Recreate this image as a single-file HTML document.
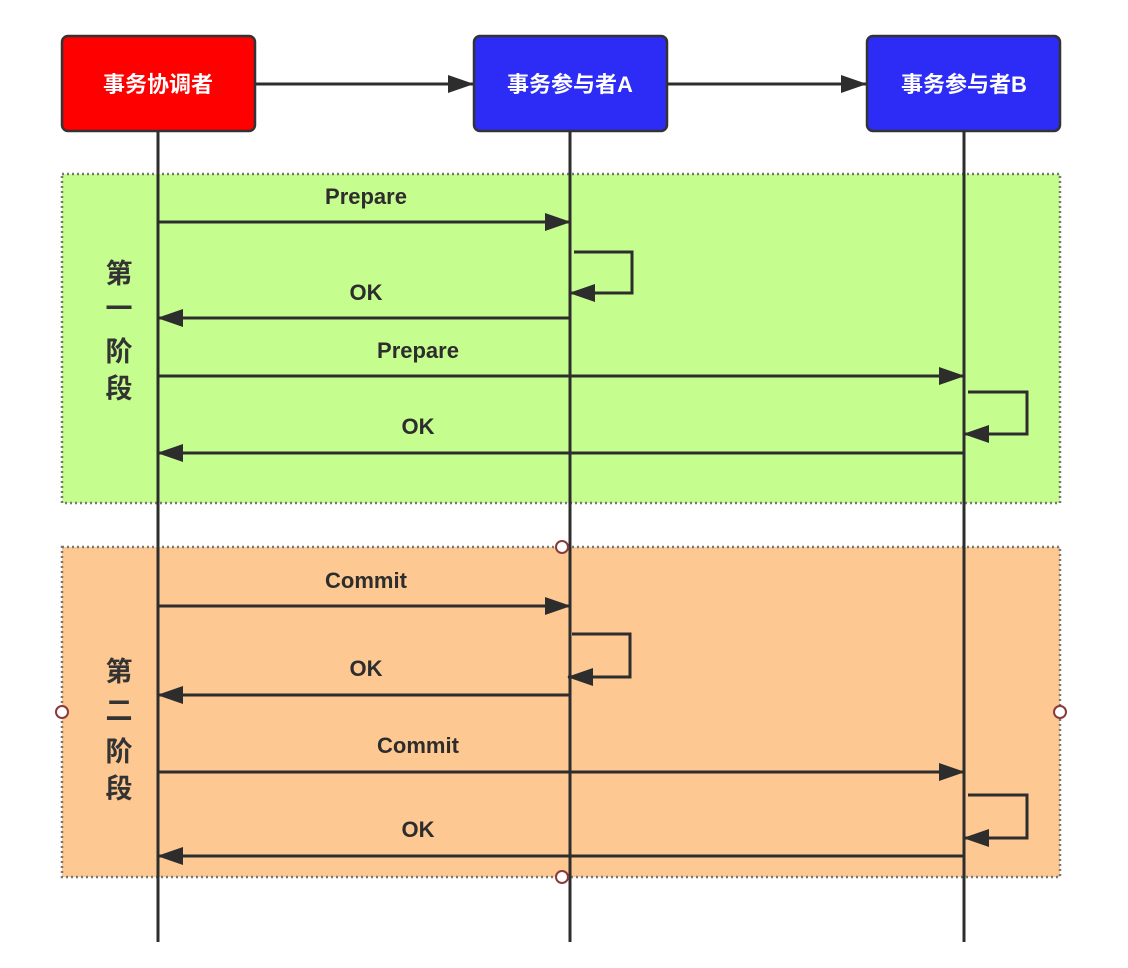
<!DOCTYPE html>
<html><head><meta charset="utf-8"><style>
html,body{margin:0;padding:0;background:#fff;}
svg{display:block;}
text{font-family:"Liberation Sans","Noto Sans CJK SC",sans-serif;font-weight:bold;}
</style></head><body>
<svg width="1128" height="968" viewBox="0 0 1128 968" xmlns="http://www.w3.org/2000/svg">
<defs>
<marker id="a" markerWidth="26" markerHeight="18" refX="25" refY="9" orient="auto" markerUnits="userSpaceOnUse">
<path d="M0,0 L26,9 L0,18 Z" fill="#2d2d2d"/>
</marker>
</defs>
<rect x="62" y="174" width="998" height="329" fill="#c6fd8f" stroke="#777" stroke-width="2.5" stroke-dasharray="2,3"/>
<rect x="62" y="547" width="998" height="330" fill="#fdc891" stroke="#777" stroke-width="2.5" stroke-dasharray="2,3"/>
<g stroke="#2d2d2d" stroke-width="3" fill="none">
<line x1="158" y1="131" x2="158" y2="942"/>
<line x1="570" y1="131" x2="570" y2="942"/>
<line x1="964" y1="131" x2="964" y2="942"/>
<line x1="255" y1="84" x2="473" y2="84" marker-end="url(#a)"/>
<line x1="667" y1="84" x2="866" y2="84" marker-end="url(#a)"/>
<line x1="158" y1="222" x2="570" y2="222" marker-end="url(#a)"/>
<polyline points="574,252 632,252 632,293 570,293" marker-end="url(#a)"/>
<line x1="570" y1="318" x2="158" y2="318" marker-end="url(#a)"/>
<line x1="158" y1="376" x2="964" y2="376" marker-end="url(#a)"/>
<polyline points="968,392 1027,392 1027,434 964,434" marker-end="url(#a)"/>
<line x1="964" y1="453" x2="158" y2="453" marker-end="url(#a)"/>
<line x1="158" y1="606" x2="570" y2="606" marker-end="url(#a)"/>
<polyline points="572,634 630,634 630,677 568,677" marker-end="url(#a)"/>
<line x1="570" y1="695" x2="158" y2="695" marker-end="url(#a)"/>
<line x1="158" y1="772" x2="964" y2="772" marker-end="url(#a)"/>
<polyline points="968,795 1027,795 1027,838 964,838" marker-end="url(#a)"/>
<line x1="964" y1="856" x2="158" y2="856" marker-end="url(#a)"/>
</g>
<rect x="62" y="36" width="193" height="95" rx="6" fill="#fe0000" stroke="#333" stroke-width="2.5"/>
<rect x="474" y="36" width="193" height="95" rx="6" fill="#2c2cf6" stroke="#333" stroke-width="2.5"/>
<rect x="867" y="36" width="193" height="95" rx="6" fill="#2c2cf6" stroke="#333" stroke-width="2.5"/>
<g fill="#fff" font-size="22" text-anchor="middle">
<text x="158" y="92">事务协调者</text>
<text x="570" y="92">事务参与者A</text>
<text x="964" y="92">事务参与者B</text>
</g>
<g fill="#2d2d2d" font-size="22" text-anchor="middle">
<text x="366" y="204">Prepare</text>
<text x="366" y="300">OK</text>
<text x="418" y="358">Prepare</text>
<text x="418" y="434">OK</text>
<text x="366" y="588">Commit</text>
<text x="366" y="676">OK</text>
<text x="418" y="753">Commit</text>
<text x="418" y="837">OK</text>
</g>
<g fill="#333" font-size="27" text-anchor="middle">
<text x="119" y="283">第</text>
<text x="119" y="318">一</text>
<text x="119" y="361">阶</text>
<text x="119" y="398">段</text>
<text x="119" y="681">第</text>
<text x="119" y="720">二</text>
<text x="119" y="761">阶</text>
<text x="119" y="798">段</text>
</g>
<g fill="#fff" stroke="#8b3a3a" stroke-width="2">
<circle cx="562" cy="547" r="6"/>
<circle cx="562" cy="877" r="6"/>
<circle cx="62" cy="712" r="6"/>
<circle cx="1060" cy="712" r="6"/>
</g>
</svg>
</body></html>
